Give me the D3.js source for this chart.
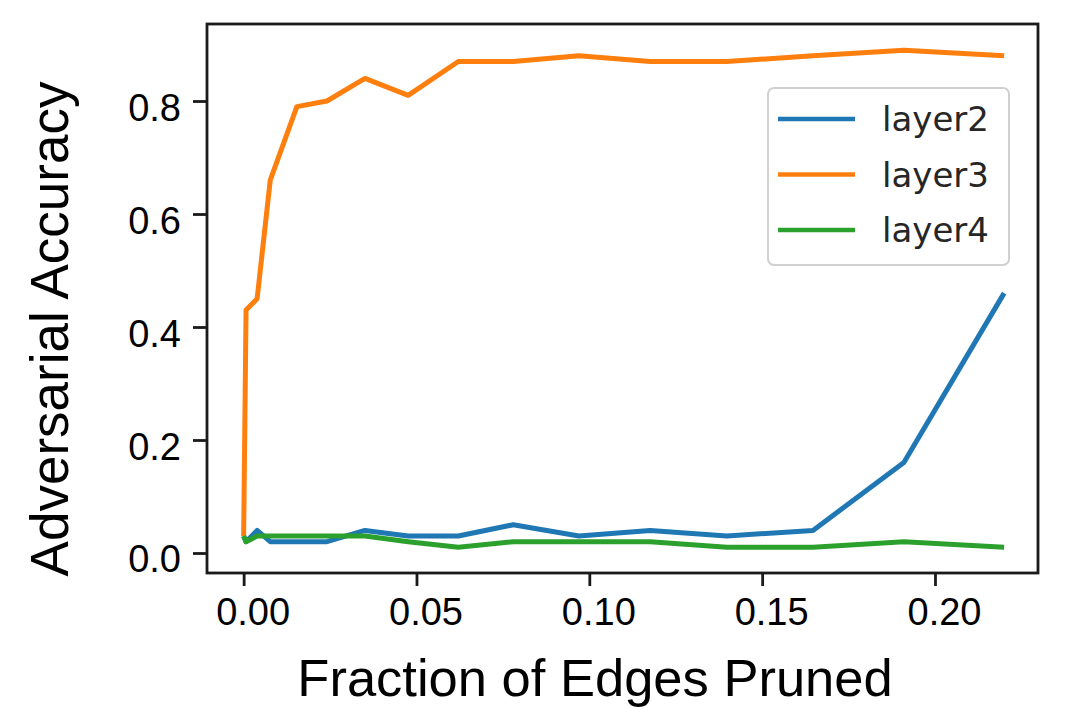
<!DOCTYPE html>
<html>
<head>
<script src="https://d3js.org/d3.v7.min.js"></script>
<style>
body {
  margin: 0;
  background: white;
  font-family: "Liberation Sans", Arial, Helvetica, sans-serif;
}
</style>
<title>Adversarial Accuracy</title>
</head>
<body>
<div id="chart"></div>
<script>
  // fraction of edges pruned (x)
  const fractions = [0, 0.0007, 0.0039, 0.0077, 0.0154, 0.0241, 0.0351, 0.0476, 0.0621, 0.0780, 0.0970, 0.1176, 0.1398, 0.1647, 0.1910, 0.2200];
  const layer2 = [0.03, 0.02, 0.04, 0.02, 0.02, 0.02, 0.04, 0.03, 0.03, 0.05, 0.03, 0.04, 0.03, 0.04, 0.16, 0.46];
  const layer3 = [0.03, 0.43, 0.45, 0.66, 0.79, 0.80, 0.84, 0.81, 0.87, 0.87, 0.88, 0.87, 0.87, 0.88, 0.89, 0.88];
  const layer4 = [0.03, 0.02, 0.03, 0.03, 0.03, 0.03, 0.03, 0.02, 0.01, 0.02, 0.02, 0.02, 0.01, 0.01, 0.02, 0.01];
  const seriesNames = ["layer2", "layer3", "layer4"];
  const seriesColors = ["#1f77b4", "#ff7f0e", "#2ca02c"];
  const xTicks = [0, 0.05, 0.10, 0.15, 0.20];
  const yTicks = [0, 0.2, 0.4, 0.6, 0.8];
  const xLabel = "Fraction of Edges Pruned";
  const yLabel = "Adversarial Accuracy";

  const width = 1074;
  const height = 709;
  // axes box
  const boxLeft = 207, boxRight = 1038, boxTop = 24, boxBottom = 573;

  const x = d3.scaleLinear()
    .domain([-0.0106, 0.2298])
    .range([boxLeft, boxRight]);

  const y = d3.scaleLinear()
    .domain([-0.0354, 0.9363])
    .range([boxBottom, boxTop]);

  const svg = d3.create("svg")
    .attr("width", width)
    .attr("height", height)
    .attr("viewBox", [0, 0, width, height]);

  svg.append("rect")
    .attr("width", width)
    .attr("height", height)
    .attr("fill", "white");

  // lines
  const series = [layer2, layer3, layer4].map((vals, i) => ({
    name: seriesNames[i],
    color: seriesColors[i],
    points: vals.map((v, j) => ({ f: fractions[j], v: v }))
  }));

  const line = d3.line()
    .x(d => x(d.f))
    .y(d => y(d.v));

  svg.append("g")
    .selectAll("path")
    .data(series)
    .join("path")
      .attr("fill", "none")
      .attr("stroke", d => d.color)
      .attr("stroke-width", 5)
      .attr("stroke-linejoin", "round")
      .attr("d", d => line(d.points));

  // x axis
  svg.append("g")
    .attr("transform", `translate(0,${boxBottom})`)
    .call(d3.axisBottom(x).tickValues(xTicks).tickFormat(d3.format(".2f")).tickSize(13).tickPadding(12).tickSizeOuter(0))
    .call(g => g.select(".domain").remove())
    .call(g => g.selectAll(".tick line").attr("stroke", "#1a1a1a").attr("stroke-width", 2.8))
    .call(g => g.selectAll(".tick text")
        .attr("fill", "black")
        .attr("font-size", 38)
        .attr("font-family", "'Liberation Sans', Arial, sans-serif")
        .attr("dx", 9));

  // y axis
  svg.append("g")
    .attr("transform", `translate(${boxLeft},0)`)
    .call(d3.axisLeft(y).tickValues(yTicks).tickFormat(d3.format(".1f")).tickSize(14).tickPadding(12).tickSizeOuter(0))
    .call(g => g.select(".domain").remove())
    .call(g => g.selectAll(".tick line").attr("stroke", "#1a1a1a").attr("stroke-width", 2.8))
    .call(g => g.selectAll(".tick text")
        .attr("fill", "black")
        .attr("font-size", 38)
        .attr("font-family", "'Liberation Sans', Arial, sans-serif")
        .attr("dy", "0.5em"));

  // frame
  svg.append("rect")
    .attr("x", boxLeft)
    .attr("y", boxTop)
    .attr("width", boxRight - boxLeft)
    .attr("height", boxBottom - boxTop)
    .attr("fill", "none")
    .attr("stroke", "#1a1a1a")
    .attr("stroke-width", 2.8);

  // axis labels
  svg.append("text")
    .attr("x", 595)
    .attr("y", 696)
    .attr("text-anchor", "middle")
    .attr("font-size", 52.5)
    .attr("fill", "black")
    .text(xLabel);

  svg.append("text")
    .attr("transform", "translate(68,329) rotate(-90)")
    .attr("text-anchor", "middle")
    .attr("font-size", 53)
    .attr("fill", "black")
    .text(yLabel);

  // legend
  const legend = svg.append("g")
    .attr("font-family", "'DejaVu Sans', sans-serif");

  legend.append("rect")
    .attr("x", 768)
    .attr("y", 88)
    .attr("width", 241)
    .attr("height", 177)
    .attr("rx", 6)
    .attr("fill", "white")
    .attr("fill-opacity", 0.8)
    .attr("stroke", "#d0d0d0")
    .attr("stroke-width", 2);

  const item = legend.selectAll("g.item")
    .data(series)
    .join("g")
      .attr("class", "item")
      .attr("transform", (d, i) => `translate(0,${119 + i * 55.5})`);

  item.append("line")
    .attr("x1", 778)
    .attr("x2", 855)
    .attr("stroke", d => d.color)
    .attr("stroke-width", 4.5);

  item.append("text")
    .attr("x", 882)
    .attr("dy", "0.36em")
    .attr("font-size", 34)
    .attr("fill", "#262626")
    .text(d => d.name);

  document.getElementById("chart").appendChild(svg.node());
</script>
</body>
</html>
